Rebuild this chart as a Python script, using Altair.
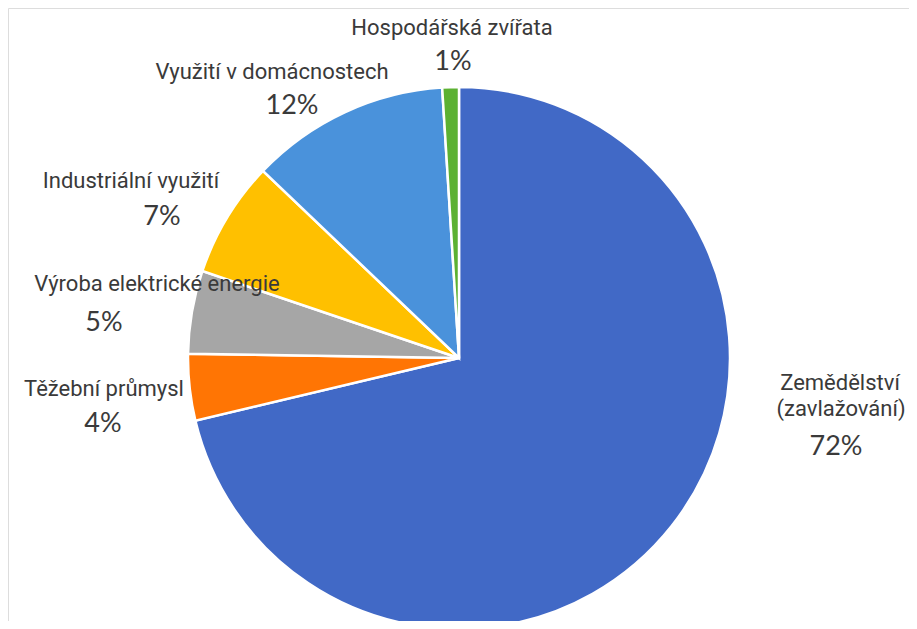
import altair as alt
import pandas as pd

# data
categories = ["Zemědělství (zavlažování)", "Těžební průmysl", "Výroba elektrické energie",
              "Industriální využití", "Využití v domácnostech", "Hospodářská zvířata"]
shares = [72, 4, 5, 7, 12, 1]
pct_labels = ["72%", "4%", "5%", "7%", "12%", "1%"]
colors = ["#4169C6", "#FF7504", "#A6A6A6", "#FFC000", "#4A92DB", "#5CB132"]

pie_df = pd.DataFrame({"cat": categories, "share": shares, "ord": list(range(len(categories)))})

# label layout (page pixel positions minus 8px margin)
name_lines = [["Zemědělství", "(zavlažování)"], ["Těžební průmysl"], ["Výroba elektrické energie"],
              ["Industriální využití"], ["Využití v domácnostech"], ["Hospodářská zvířata"]]
name_pos = [[(832, 375), (833, 401)], [(96, 381)], [(149, 276)], [(123, 173)], [(264, 64)], [(444, 20)]]
pct_pos = [(828, 439), (95, 416), (96, 315), (154, 209), (284, 98), (445, 54)]

name_rows, pct_rows = [], []
for i, cat in enumerate(categories):
    for line, (x, y) in zip(name_lines[i], name_pos[i]):
        name_rows.append({"t": line, "x": x, "y": y})
    pct_rows.append({"t": pct_labels[i], "x": pct_pos[i][0], "y": pct_pos[i][1]})
name_df = pd.DataFrame(name_rows)
pct_df = pd.DataFrame(pct_rows)

pie = alt.Chart(pie_df).mark_arc(radius=271, stroke="white", strokeWidth=2.5).encode(
    theta=alt.Theta("share:Q", stack=True),
    order=alt.Order("ord:Q"),
    color=alt.Color("cat:N", scale=alt.Scale(domain=categories, range=colors), legend=None),
    x=alt.value(451),
    y=alt.value(350),
)

names = alt.Chart(name_df).mark_text(
    font="Roboto", fontSize=22, color="#3a3a3a", align="center", baseline="middle"
).encode(x=alt.X("x:Q", scale=None, axis=None), y=alt.Y("y:Q", scale=None, axis=None), text="t:N")

pcts = alt.Chart(pct_df).mark_text(
    font="Lato", fontSize=27, color="#3a3a3a", align="center", baseline="middle"
).encode(x=alt.X("x:Q", scale=None, axis=None), y=alt.Y("y:Q", scale=None, axis=None), text="t:N")

chart = alt.layer(pie, names, pcts).properties(
    width=901, height=613, autosize=alt.AutoSizeParams(type="none"), padding=0
).configure_view(stroke="transparent", strokeWidth=0).configure(background="white")

chart.save("out.html", embed_options={"renderer": "svg", "actions": False})
